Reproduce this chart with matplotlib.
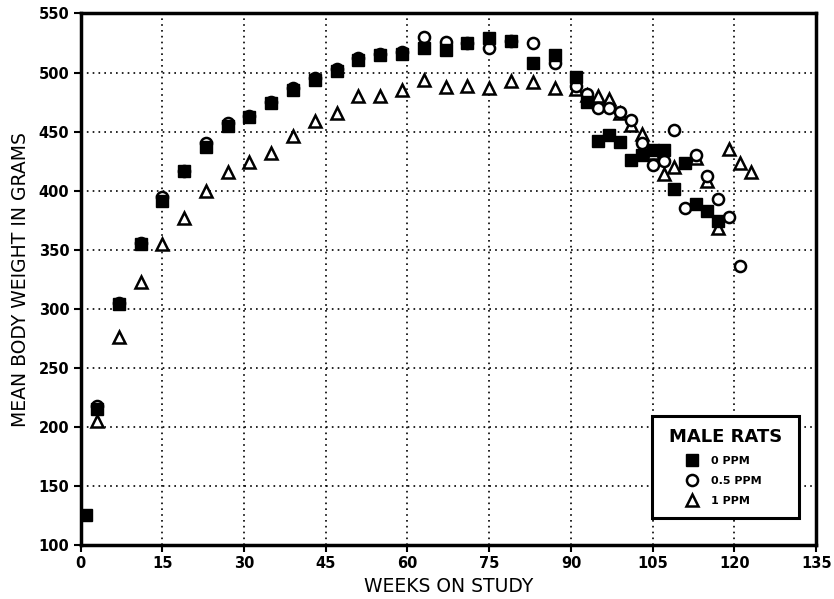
import matplotlib
matplotlib.use("Agg")
import matplotlib.pyplot as plt
from matplotlib.lines import Line2D

# ---- data ----
weeks_0ppm = [1, 3, 7, 11, 15, 19, 23, 27, 31, 35, 39, 43, 47, 51, 55, 59, 63, 67, 71,
              75, 79, 83, 87, 91, 93, 95, 97, 99, 101, 103, 105, 107, 109, 111, 113, 115, 117]
weight_0ppm = [125, 215, 304, 355, 391, 417, 437, 455, 462, 474, 485, 494, 501, 511, 515,
               516, 521, 519, 525, 529, 527, 508, 515, 496, 475, 442, 447, 441, 426, 430,
               434, 434, 401, 423, 389, 383, 374]

weeks_05ppm = [3, 7, 11, 15, 19, 23, 27, 31, 35, 39, 43, 47, 51, 55, 59, 63, 67, 71, 75,
               79, 83, 87, 91, 93, 95, 97, 99, 101, 103, 105, 107, 109, 111, 113, 115, 117,
               119, 121]
weight_05ppm = [218, 305, 356, 395, 417, 440, 457, 463, 475, 487, 495, 503, 512, 516, 517,
                530, 526, 525, 521, 527, 525, 508, 489, 482, 470, 470, 467, 460, 440, 422,
                425, 451, 385, 430, 412, 393, 378, 336]

weeks_1ppm = [3, 7, 11, 15, 19, 23, 27, 31, 35, 39, 43, 47, 51, 55, 59, 63, 67, 71, 75,
              79, 83, 87, 91, 93, 95, 97, 99, 101, 103, 105, 107, 109, 113, 115, 117, 119,
              121, 123]
weight_1ppm = [205, 276, 323, 355, 377, 400, 416, 424, 432, 446, 459, 466, 480, 480, 485,
               494, 488, 489, 487, 493, 492, 487, 486, 481, 480, 478, 466, 456, 448, 432,
               414, 420, 428, 408, 368, 435, 423, 416]

x_ticks = [0, 15, 30, 45, 60, 75, 90, 105, 120, 135]
y_ticks = [100, 150, 200, 250, 300, 350, 400, 450, 500, 550]
series_labels = ["0 PPM", "0.5 PPM", "1 PPM"]

plt.rcParams['font.family'] = ['DejaVu Sans']

fig = plt.figure(figsize=(8.34, 5.99), dpi=100)
ax = fig.add_axes([0.0966, 0.0902, 0.882, 0.8873])

ax.plot(weeks_1ppm, weight_1ppm, linestyle='none', marker='^', markersize=9,
        markerfacecolor='white', markeredgecolor='black', markeredgewidth=1.8, zorder=3)
ax.plot(weeks_05ppm, weight_05ppm, linestyle='none', marker='o', markersize=8,
        markerfacecolor='white', markeredgecolor='black', markeredgewidth=1.8, zorder=4)
ax.plot(weeks_0ppm, weight_0ppm, linestyle='none', marker='s', markersize=8.5,
        markerfacecolor='black', markeredgecolor='black', markeredgewidth=1, zorder=5)

ax.set_xlim(0, 135)
ax.set_ylim(100, 550)
ax.set_xticks(x_ticks)
ax.set_yticks(y_ticks)
ax.set_xticklabels([str(t) for t in x_ticks], fontweight='bold', fontsize=10.5)
ax.set_yticklabels([str(t) for t in y_ticks], fontweight='bold', fontsize=10.5)
ax.tick_params(direction='out', length=5, width=1.5, colors='black', pad=3)

ax.grid(True, linestyle=(0, (1, 2.5)), color='black', linewidth=1.2)
ax.set_axisbelow(True)
for s in ax.spines.values():
    s.set_linewidth(2.5)
    s.set_color('black')

ax.set_xlabel("WEEKS ON STUDY", fontsize=13.5, labelpad=4)
ax.set_ylabel("MEAN BODY WEIGHT IN GRAMS", fontsize=13.5, labelpad=6)

handles = [
    Line2D([], [], linestyle='none', marker='s', markersize=8, markerfacecolor='black',
           markeredgecolor='black'),
    Line2D([], [], linestyle='none', marker='o', markersize=8, markerfacecolor='white',
           markeredgecolor='black', markeredgewidth=1.8),
    Line2D([], [], linestyle='none', marker='^', markersize=9, markerfacecolor='white',
           markeredgecolor='black', markeredgewidth=1.8),
]
leg = ax.legend(handles, series_labels, title="MALE RATS", loc='lower left',
                bbox_to_anchor=(0.7766, 0.0508, 0.2004, 0.19), mode='expand',
                frameon=True, fancybox=False,
                prop={'weight': 'bold', 'size': 8},
                title_fontproperties={'weight': 'bold', 'size': 13},
                handletextpad=-0.8, labelspacing=0.9, borderpad=1.1, handlelength=5.0,
                borderaxespad=0)
leg.get_frame().set_edgecolor('black')
leg.get_frame().set_linewidth(2.2)
leg.get_frame().set_alpha(1)
leg.set_zorder(10)

fig.savefig("out.png", dpi=100, facecolor='white')
